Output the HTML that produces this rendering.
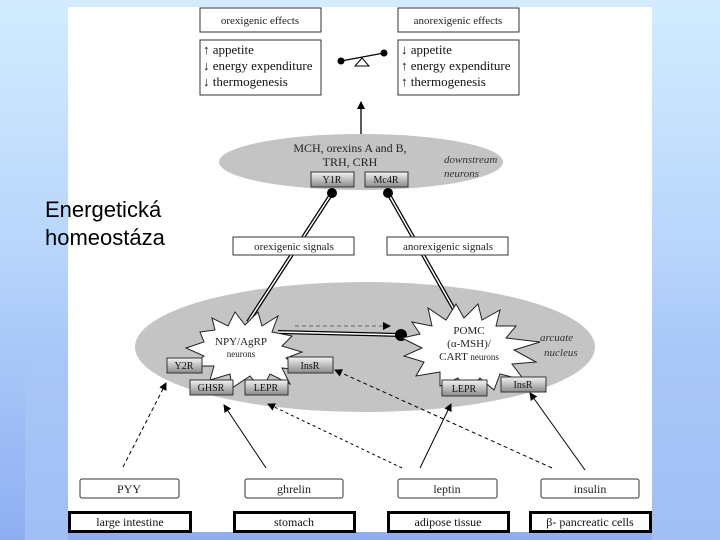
<!DOCTYPE html>
<html><head><meta charset="utf-8"><style>
html,body{margin:0;padding:0;}
body{width:720px;height:540px;overflow:hidden;background:linear-gradient(180deg,#d2ecfe 0%,#b8d6fb 45%,#8eaef2 100%);position:relative;font-family:"Liberation Serif",serif;}
.lbl{position:absolute;left:45px;top:196px;font-family:"Liberation Sans",sans-serif;font-size:22px;line-height:28px;color:#000;}
</style></head><body>
<svg width="720" height="540" style="position:absolute;left:0;top:0">
<defs>
<linearGradient id="rg" x1="0" y1="0" x2="0" y2="1"><stop offset="0" stop-color="#f4f4f4"/><stop offset="1" stop-color="#8a8a8a"/></linearGradient>
<marker id="ah" markerWidth="8" markerHeight="8" refX="7" refY="4" orient="auto" markerUnits="userSpaceOnUse"><path d="M0,0 L8,4 L0,8 z" fill="#000"/></marker>
</defs>
<rect x="25" y="363" width="43" height="177" fill="#a9c6f6" opacity="0.7"/>
<rect x="652" y="363" width="68" height="177" fill="#a9c6f6" opacity="0.7"/>
<rect x="68" y="7" width="584" height="525" fill="#fff"/>
<g font-size="11" text-anchor="middle" fill="#222">
<rect x="200" y="8" width="121" height="24" fill="#fff" stroke="#333"/><text x="260" y="24">orexigenic effects</text>
<rect x="398" y="8" width="121" height="24" fill="#fff" stroke="#333"/><text x="458" y="24">anorexigenic effects</text>
</g>
<rect x="200" y="40" width="121" height="55" fill="#fff" stroke="#333"/>
<rect x="398" y="40" width="121" height="55" fill="#fff" stroke="#333"/>
<g font-size="13" fill="#111">
<text x="203" y="54">↑ appetite</text><text x="203" y="70">↓ energy expenditure</text><text x="203" y="86">↓ thermogenesis</text>
<text x="401" y="54">↓ appetite</text><text x="401" y="70">↑ energy expenditure</text><text x="401" y="86">↑ thermogenesis</text>
</g>
<line x1="341" y1="61" x2="384" y2="53" stroke="#000" stroke-width="1.3"/>
<circle cx="341" cy="61" r="3.5"/><circle cx="384" cy="53" r="3.5"/>
<path d="M362,58 L355,66 L369,66 z" fill="#fff" stroke="#000"/>
<line x1="361" y1="134" x2="361" y2="102" stroke="#000" stroke-width="1.3" marker-end="url(#ah)"/>
<ellipse cx="361" cy="162" rx="142" ry="28" fill="#c4c4c4"/>
<ellipse cx="365" cy="347" rx="230" ry="65" fill="#c4c4c4"/>
<g font-size="12" text-anchor="middle" fill="#222"><text x="350" y="152">MCH, orexins A and B,</text><text x="350" y="166">TRH, CRH</text></g>
<g font-size="11" font-style="italic" fill="#333"><text x="444" y="163">downstream</text><text x="444" y="177">neurons</text>
<text x="540" y="341">arcuate</text><text x="544" y="356">nucleus</text></g>
<g stroke="#000" stroke-width="4" fill="none"><line x1="332" y1="193" x2="248" y2="322"/><line x1="388" y1="193" x2="460" y2="320"/><line x1="278" y1="332" x2="400" y2="335"/></g>
<g stroke="#fff" stroke-width="1.5" fill="none"><line x1="332" y1="193" x2="248" y2="322"/><line x1="388" y1="193" x2="460" y2="320"/><line x1="278" y1="332" x2="400" y2="335"/></g>
<circle cx="332" cy="193" r="5"/><circle cx="388" cy="193" r="5"/><circle cx="401" cy="335" r="6"/>
<line x1="295" y1="326" x2="390" y2="326" stroke="#666" stroke-dasharray="4,3" marker-end="url(#ah)"/>
<g font-size="11" text-anchor="middle" fill="#222">
<rect x="233" y="237" width="121" height="18" fill="#fff" stroke="#333"/><text x="294" y="250">orexigenic signals</text>
<rect x="387" y="237" width="121" height="18" fill="#fff" stroke="#333"/><text x="448" y="250">anorexigenic signals</text>
</g>
<polygon fill="#fff" stroke="#222" points="200,332 215,330 212,318 228,326 235,312 245,325 258,312 262,326 278,316 272,332 292,336 282,346 302,352 286,358 300,370 282,368 290,384 270,374 262,390 250,376 232,388 230,374 210,380 214,366 192,366 204,356 186,348 204,342"/>
<polygon fill="#fff" stroke="#222" points="412,322 432,326 428,308 446,320 456,304 464,318 478,304 482,320 500,310 496,326 516,326 506,338 540,342 514,350 536,362 512,364 524,380 500,374 494,390 480,378 466,392 458,378 440,386 440,372 416,376 424,362 404,356 422,348 402,338 420,334"/>
<g font-size="11" text-anchor="middle" fill="#222"><text x="241" y="345">NPY/AgRP</text><text x="241" y="357" font-size="9">neurons</text>
<text x="469" y="334">POMC</text><text x="469" y="347">(α-MSH)/</text><text x="469" y="360">CART <tspan font-size="9">neurons</tspan></text></g>
<g stroke="#333" fill="url(#rg)">
<rect x="311" y="172" width="43" height="15"/><rect x="365" y="172" width="43" height="15"/>
<rect x="167" y="358" width="35" height="15"/><rect x="288" y="357" width="45" height="16"/>
<rect x="190" y="380" width="43" height="15"/><rect x="245" y="380" width="43" height="15"/>
<rect x="442" y="380" width="45" height="16"/><rect x="501" y="377" width="45" height="15"/>
</g>
<g font-size="10" text-anchor="middle" fill="#111">
<text x="332" y="183">Y1R</text><text x="386" y="183">Mc4R</text><text x="184" y="369">Y2R</text><text x="310" y="369">InsR</text>
<text x="211" y="391">GHSR</text><text x="266" y="391">LEPR</text><text x="464" y="392">LEPR</text><text x="523" y="388">InsR</text>
</g>
<g stroke="#000" stroke-width="1" fill="none">
<line x1="123" y1="467" x2="166" y2="383" stroke-dasharray="4,3" marker-end="url(#ah)"/>
<line x1="266" y1="468" x2="224" y2="405" marker-end="url(#ah)"/>
<line x1="402" y1="468" x2="268" y2="404" stroke-dasharray="3,3" marker-end="url(#ah)"/>
<line x1="420" y1="468" x2="451" y2="404" marker-end="url(#ah)"/>
<line x1="552" y1="468" x2="335" y2="370" stroke-dasharray="4,3" marker-end="url(#ah)"/>
<line x1="585" y1="470" x2="530" y2="393" marker-end="url(#ah)"/>
</g>
<g font-size="12" text-anchor="middle" fill="#222">
<rect x="80" y="479" width="99" height="19" rx="2" fill="#fff" stroke="#333"/><text x="129" y="493">PYY</text>
<rect x="245" y="479" width="98" height="19" rx="2" fill="#fff" stroke="#333"/><text x="294" y="493">ghrelin</text>
<rect x="398" y="479" width="99" height="19" rx="2" fill="#fff" stroke="#333"/><text x="447" y="493">leptin</text>
<rect x="541" y="479" width="98" height="19" rx="2" fill="#fff" stroke="#333"/><text x="590" y="493">insulin</text>
</g>
<g font-size="12" text-anchor="middle" fill="#111" >
<rect x="69.5" y="512.5" width="121" height="19" fill="#fff" stroke="#000" stroke-width="3"/><text x="130" y="526">large intestine</text>
<rect x="234.5" y="512.5" width="120" height="19" fill="#fff" stroke="#000" stroke-width="3"/><text x="294" y="526">stomach</text>
<rect x="388.5" y="512.5" width="120" height="19" fill="#fff" stroke="#000" stroke-width="3"/><text x="448" y="526">adipose tissue</text>
<rect x="530.5" y="512.5" width="120" height="19" fill="#fff" stroke="#000" stroke-width="3"/><text x="590" y="526">β- pancreatic cells</text>
</g>
</svg>
<div class="lbl">Energetická<br>homeostáza</div>
</body></html>
